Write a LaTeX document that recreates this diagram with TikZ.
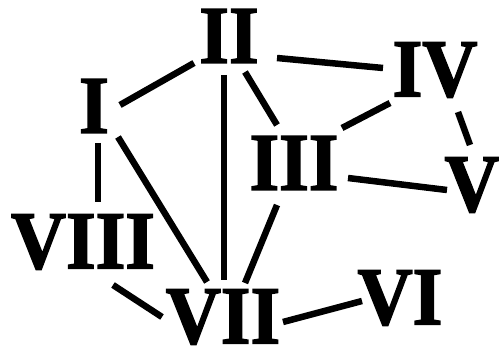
\documentclass[tikz,border=0pt]{standalone}
\usepackage{fontspec}
\setmainfont{Liberation Serif}
\newfontfamily\numfont{Liberation Serif Bold}[FakeBold=2]
\begin{document}
\begin{tikzpicture}[x=1pt,y=-1pt,
  num/.style={inner sep=0pt,font=\fontsize{82}{82}\numfont},
  edge/.style={line width=6.5pt}]
\path[use as bounding box] (0,0) rectangle (499,350);
\newcommand{\nm}[1]{\scalebox{0.93}[1]{#1}}
\node[num] (I) at (94,106) {\nm{I}};
\node[num] (II) at (229,36) {\nm{II}};
\node[num] (III) at (294,163) {\nm{III}};
\node[num] (IV) at (435,70) {\nm{IV}};
\node[num] (V) at (472,185) {\nm{V}};
\node[num] (VI) at (400,298) {\nm{VI}};
\node[num] (VII) at (223,317) {\nm{VII}};
\node[num] (VIII) at (83,242) {\nm{VIII}};
\draw[edge] ([shift={(26,-1)}]I.center) -- ([shift={(-35,27)}]II.center);
\draw[edge] ([shift={(48,22)}]II.center) -- ([shift={(-52,-2)}]IV.center);
\draw[edge] ([shift={(16,36)}]II.center) -- ([shift={(-17,-38)}]III.center);
\draw[edge] ([shift={(-5,39)}]II.center) -- ([shift={(1,-37)}]VII.center);
\draw[edge] ([shift={(24,31)}]I.center) -- ([shift={(-16,-35)}]VII.center);
\draw[edge] ([shift={(4,37)}]I.center) -- ([shift={(15,-40)}]VIII.center);
\draw[edge] ([shift={(30,43)}]VIII.center) -- ([shift={(-61,0)}]VII.center);
\draw[edge] ([shift={(-17,42)}]III.center) -- ([shift={(22,-34)}]VII.center);
\draw[edge] ([shift={(48,-35)}]III.center) -- ([shift={(-45,33)}]IV.center);
\draw[edge] ([shift={(23,42)}]IV.center) -- ([shift={(-2,-40)}]V.center);
\draw[edge] ([shift={(54,15)}]III.center) -- ([shift={(-25,5)}]V.center);
\draw[edge] ([shift={(60,5)}]VII.center) -- ([shift={(-38,3)}]VI.center);
\end{tikzpicture}
\end{document}
